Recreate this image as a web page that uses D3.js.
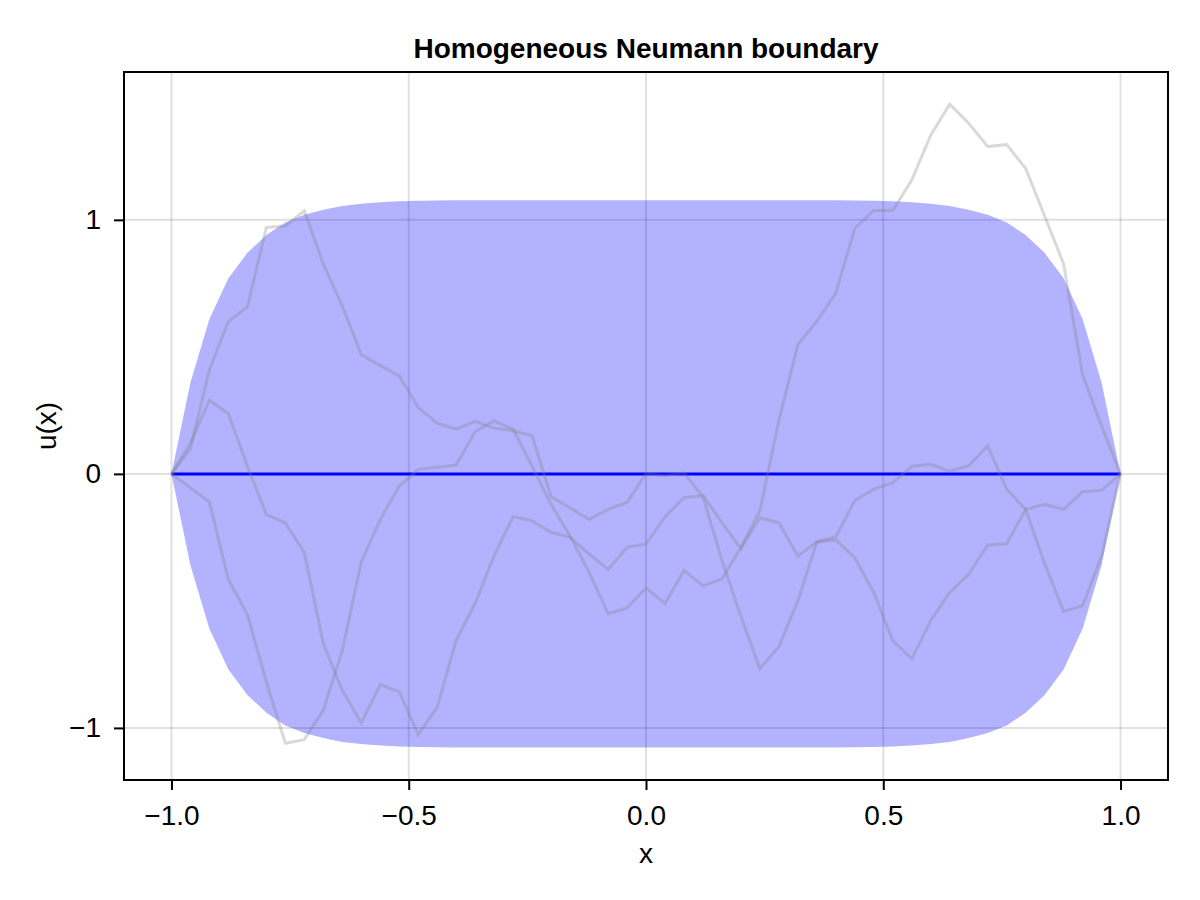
<!DOCTYPE html>
<html>
<head>
<meta charset="utf-8">
<script src="https://cdn.jsdelivr.net/npm/d3@7"></script>
<style>
  html, body { margin: 0; padding: 0; background: #fff; }
  svg text { font-family: "Liberation Sans", Arial, Helvetica, sans-serif; fill: #000; }
</style>
</head>
<body>
<svg id="chart" width="1200" height="900"></svg>
<script>
const xs = [
  -1.00, -0.96, -0.92, -0.88, -0.84, -0.80, -0.76, -0.72, -0.68, -0.64,
  -0.60, -0.56, -0.52, -0.48, -0.44, -0.40, -0.36, -0.32, -0.28, -0.24,
  -0.20, -0.16, -0.12, -0.08, -0.04, 0.00, 0.04, 0.08, 0.12, 0.16,
  0.20, 0.24, 0.28, 0.32, 0.36, 0.40, 0.44, 0.48, 0.52, 0.56,
  0.60, 0.64, 0.68, 0.72, 0.76, 0.80, 0.84, 0.88, 0.92, 0.96, 1.00
];

const meanValues = [
  0, 0, 0, 0, 0, 0, 0, 0, 0, 0, 0, 0, 0, 0, 0, 0, 0, 0, 0, 0, 0, 0, 0, 0, 0,
  0, 0, 0, 0, 0, 0, 0, 0, 0, 0, 0, 0, 0, 0, 0, 0, 0, 0, 0, 0, 0, 0, 0, 0, 0, 0
];

const bandUpper = [
  0, 0.36, 0.61, 0.77, 0.87, 0.94, 0.99, 1.02, 1.04, 1.055,
  1.063, 1.069, 1.073, 1.075, 1.076, 1.077, 1.077, 1.077, 1.077, 1.077,
  1.077, 1.077, 1.077, 1.077, 1.077, 1.077, 1.077, 1.077, 1.077, 1.077,
  1.077, 1.077, 1.077, 1.077, 1.077, 1.077, 1.076, 1.075, 1.073, 1.069,
  1.063, 1.055, 1.04, 1.02, 0.99, 0.94, 0.87, 0.77, 0.61, 0.36, 0
];

const bandLower = [
  0, -0.36, -0.61, -0.77, -0.87, -0.94, -0.99, -1.02, -1.04, -1.055,
  -1.063, -1.069, -1.073, -1.075, -1.076, -1.077, -1.077, -1.077, -1.077, -1.077,
  -1.077, -1.077, -1.077, -1.077, -1.077, -1.077, -1.077, -1.077, -1.077, -1.077,
  -1.077, -1.077, -1.077, -1.077, -1.077, -1.077, -1.076, -1.075, -1.073, -1.069,
  -1.063, -1.055, -1.04, -1.02, -0.99, -0.94, -0.87, -0.77, -0.61, -0.36, 0
];

const sample1 = [
  0, 0.10, 0.41, 0.60, 0.657, 0.97, 0.976, 1.036, 0.826, 0.661,
  0.469, 0.426, 0.386, 0.261, 0.20, 0.176, 0.207, 0.18, 0.17, 0.15,
  -0.09, -0.133, -0.18, -0.14, -0.112, 0, -0.007, 0.004, -0.09, -0.34,
  -0.56, -0.767, -0.68, -0.50, -0.268, -0.26, -0.33, -0.467, -0.656, -0.728,
  -0.578, -0.467, -0.395, -0.28, -0.275, -0.14, -0.12, -0.14, -0.07, -0.065, 0
];

const sample2 = [
  0, 0.12, 0.29, 0.237, 0.03, -0.16, -0.193, -0.31, -0.667, -0.853,
  -0.98, -0.83, -0.857, -1.026, -0.919, -0.654, -0.51, -0.322, -0.168, -0.185,
  -0.23, -0.25, -0.315, -0.377, -0.289, -0.276, -0.169, -0.094, -0.085, -0.192,
  -0.294, -0.173, -0.192, -0.323, -0.268, -0.247, -0.105, -0.06, -0.035, 0.03,
  0.038, 0.01, 0.032, 0.11, -0.06, -0.14, -0.353, -0.541, -0.519, -0.323, 0
];

const sample3 = [
  0, -0.055, -0.11, -0.417, -0.553, -0.82, -1.06, -1.046, -0.93, -0.696,
  -0.346, -0.18, -0.048, 0.017, 0.026, 0.035, 0.166, 0.209, 0.176, 0.03,
  -0.12, -0.244, -0.387, -0.55, -0.528, -0.449, -0.51, -0.38, -0.44, -0.414,
  -0.29, -0.146, 0.21, 0.51, 0.60, 0.712, 0.967, 1.037, 1.037, 1.157,
  1.333, 1.455, 1.38, 1.289, 1.296, 1.203, 1.015, 0.827, 0.39, 0.188, 0
];

const samples = [sample1, sample2, sample3];

const xTicks = [-1.0, -0.5, 0.0, 0.5, 1.0];
const yTicks = [-1, 0, 1];

const TITLE = 'Homogeneous Neumann boundary';
const X_LABEL = 'x';
const Y_LABEL = 'u(x)';

const PLOT_LEFT = 124;
const PLOT_TOP = 72;
const PLOT_WIDTH = 1044;
const PLOT_HEIGHT = 708;
const TICK_SIZE = 10;
const FONT_SIZE = 28;

const svg = d3.select('#chart');

const x = d3.scaleLinear()
  .domain([-1.1, 1.1])
  .range([0, PLOT_WIDTH]);
const y = d3.scaleLinear()
  .domain([-1.205, 1.582])
  .range([PLOT_HEIGHT, 0]);

const plot = svg
  .append('g')
  .attr('transform', `translate(${PLOT_LEFT},${PLOT_TOP})`);

svg.append('defs')
  .append('clipPath')
  .attr('id', 'clip')
  .append('rect')
  .attr('width', PLOT_WIDTH)
  .attr('height', PLOT_HEIGHT);

// grid
plot.append('g')
  .selectAll('line')
  .data(xTicks)
  .enter()
    .append('line')
    .attr('x1', (d) => x(d))
    .attr('x2', (d) => x(d))
    .attr('y1', 0)
    .attr('y2', PLOT_HEIGHT)
    .attr('stroke', 'rgba(0,0,0,0.12)')
    .attr('stroke-width', 2);

plot.append('g')
  .selectAll('line')
  .data(yTicks)
  .enter()
    .append('line')
    .attr('x1', 0)
    .attr('x2', PLOT_WIDTH)
    .attr('y1', (d) => y(d))
    .attr('y2', (d) => y(d))
    .attr('stroke', 'rgba(0,0,0,0.12)')
    .attr('stroke-width', 2);

const marks = plot.append('g').attr('clip-path', 'url(#clip)');

// uncertainty band
const band = d3.area()
  .x((d, i) => x(xs[i]))
  .y0((d, i) => y(bandLower[i]))
  .y1((d, i) => y(bandUpper[i]));

marks.append('path')
  .datum(xs)
  .attr('d', band)
  .attr('fill', 'rgb(0,0,255)')
  .attr('fill-opacity', 0.3);

const line = d3.line()
  .x((d, i) => x(xs[i]))
  .y((d) => y(d));

// mean
marks.append('path')
  .datum(meanValues)
  .attr('d', line)
  .attr('fill', 'none')
  .attr('stroke', '#0000ff')
  .attr('stroke-width', 3);

// samples
marks.append('g')
  .selectAll('path')
  .data(samples)
  .enter()
    .append('path')
    .attr('d', line)
    .attr('fill', 'none')
    .attr('stroke', 'rgba(128,128,128,0.3)')
    .attr('stroke-width', 3)
    .attr('stroke-linejoin', 'miter');

// axes
const xAxis = plot.append('g')
  .attr('transform', `translate(0,${PLOT_HEIGHT})`)
  .call(d3.axisBottom(x)
    .tickValues(xTicks)
    .tickFormat(d3.format('.1f'))
    .tickSize(TICK_SIZE)
    .tickPadding(15));

const yAxis = plot.append('g')
  .call(d3.axisLeft(y)
    .tickValues(yTicks)
    .tickFormat(d3.format('d'))
    .tickSize(TICK_SIZE)
    .tickPadding(13));

[xAxis, yAxis].forEach((axis) => {
  axis.select('.domain').remove();
  axis.selectAll('.tick line')
    .attr('stroke', '#000')
    .attr('stroke-width', 2);
  axis.selectAll('.tick text')
    .attr('font-size', FONT_SIZE)
    .attr('font-family', '"Liberation Sans", Arial, sans-serif')
    .attr('fill', '#000');
});

// frame
plot.append('rect')
  .attr('width', PLOT_WIDTH)
  .attr('height', PLOT_HEIGHT)
  .attr('fill', 'none')
  .attr('stroke', '#000')
  .attr('stroke-width', 2);

// title and labels
svg.append('text')
  .attr('x', PLOT_LEFT + PLOT_WIDTH / 2)
  .attr('y', 58)
  .attr('text-anchor', 'middle')
  .attr('font-size', FONT_SIZE)
  .attr('font-weight', 'bold')
  .text(TITLE);

svg.append('text')
  .attr('x', PLOT_LEFT + PLOT_WIDTH / 2)
  .attr('y', 863)
  .attr('text-anchor', 'middle')
  .attr('font-size', FONT_SIZE)
  .text(X_LABEL);

svg.append('text')
  .attr('transform', `translate(56,${PLOT_TOP + PLOT_HEIGHT / 2}) rotate(-90)`)
  .attr('text-anchor', 'middle')
  .attr('font-size', FONT_SIZE)
  .text(Y_LABEL);
</script>
</body>
</html>
